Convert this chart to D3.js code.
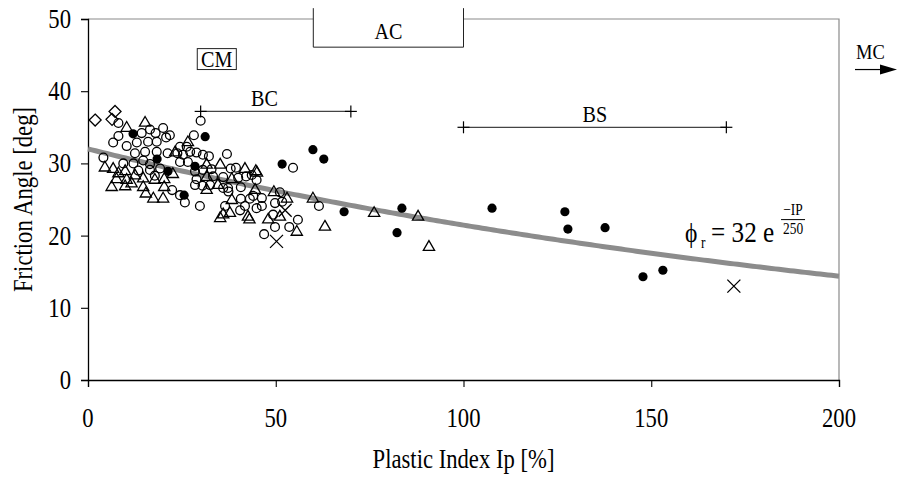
<!DOCTYPE html>
<html><head><meta charset="utf-8">
<script src="https://cdn.jsdelivr.net/npm/d3@7"></script>
<style>body{margin:0;background:#fff}svg{display:block}text{font-family:"Liberation Serif","Times New Roman",serif;fill:#000}</style>
</head><body><div id="chart"></div>
<script>
// ---- data (Plastic index Ip [%], friction angle [deg]) ----
const xTicks = [0, 50, 100, 150, 200];
const yTicks = [0, 10, 20, 30, 40, 50];
const xTitle = "Plastic Index Ip [%]";
const yTitle = "Friction Angle [deg]";
const openCircles = [
 [8.1,35.6],[14.3,34.2],[16.5,34.7],[18,34.2],[20,34.9],[8.1,33.8],[6.7,32.9],[10.3,32.4],[13,32.9],[16,33],
 [18.3,33],[20.8,33.6],[12.5,31.4],[15.2,31.6],[18.3,31.6],[21.2,31.4],[4.1,30.8],[9.4,30],[12.1,30],[14.7,30.4],
 [16.5,29.9],[13.4,29],[16.5,29.1],[19.2,29.3],[17.8,28.3],[22.4,26.3],
 [30,35.9],[28.2,33.9],[24.5,32.3],[26.3,32.3],[21.8,33.9],[23.8,31.4],[25.3,31.2],[27.2,31.6],[28.9,31.5],[30.6,31.2],
 [32.2,31],[37,31.3],[24.5,30.2],[26.6,30.2],[30.6,29.1],[32.9,29.2],[28.5,28.9],[38,29.3],[39.4,29.4],[42.1,28.2],
 [28.9,27.8],[33.3,28.2],[36,28.1],[40,28],[28.5,27],[30.5,26.9],[32.5,27],[36,26.6],[37.3,26.6],[40.7,26.7],
 [24.5,25.6],[40.7,25.1],[43.1,25.1],[25.8,24.6],[29.8,24.1],[36.5,24.1],[41.8,24.1],[40.5,23.5],[44.9,23.8],[44,25.5],
 [44.9,27.7],[43.6,28.4],[46.3,25.2],[46.3,24.1],[51.1,26],[49.8,24.5],[51.7,24.7],[49.3,22.9],[49.8,21.2],[53.6,21.2],
 [55.9,22.2],[46.9,20.2],[61.5,24.1],[54.6,29.4],[37.4,26.1]
];
const openTriangles = [
 [10.3,34.9],[15.2,35.6],[4.5,29.4],[6.7,29.2],[8.1,28.6],[9.9,28.9],[7.6,27.8],[10.3,27.7],[12.5,28.3],[14.7,27.9],
 [11.6,27.2],[6.3,26.7],[9.9,26.8],[14.7,26.7],[17.8,27.7],[20.3,27.8],[15.4,25.8],[17.4,25.1],[20,25.1],[20.3,26.7],
 [26.6,32.9],[23.2,31.5],[31.6,29.8],[35.2,29.8],[22.6,28.5],[41.8,29.2],[44.7,28.9],[31.6,28.1],[38.3,27.8],[34.6,27],
 [31.6,26.3],[38.3,24.9],[36,22.9],[37.8,23.1],[42.6,22.6],[35.2,22.4],
 [45,28.7],[44.5,26.3],[49.5,26],[53,25.1],[51.1,22.6],[48,22.2],[55.6,20.5],[59.9,25.1],[63.1,21.2],[43,22.2],
 [76.2,23.1],[87.9,22.6],[90.8,18.4]
];
const filledCircles = [
 [12,34.1],[18.4,30.6],[21.3,28.9],[28.5,29.6],[25.6,25.6],[31.2,33.7],[51.7,29.9],[59.9,31.9],[62.8,30.6],[68.2,23.3],
 [83.6,23.8],[82.3,20.4],[107.6,23.8],[127,23.3],[127.8,20.9],[137.7,21.1],[147.8,14.3],[153.1,15.2]
];
const diamonds = [[1.9,36],[7.2,37.2],[6.4,36.1]];
const crosses = [[50.2,19.2],[52.5,23.5],[172,13]];
// trend phi_r = 32 e^(-IP/250)
const trendA = 32, trendB = 250;
// range annotations [label, ipStart, ipEnd, phi, labelIp]
const rangeBars = [["BC", 30, 70, 37.2, 47], ["BS", 100, 170, 35.0, 135]];

// ---- layout ----
const W = 897, H = 477;
const m = {left: 88, top: 19, right: 58, bottom: 97};
const svg = d3.select("#chart").append("svg").attr("width", W).attr("height", H);
const x = d3.scaleLinear().domain([0, 200]).range([m.left, W - m.right]);
const y = d3.scaleLinear().domain([0, 50]).range([H - m.bottom, m.top]);
const SX = 0.84;   // horizontally condensed Times look
function txt(parent, px, py, s, size, anchor, rot) {
  return parent.append("text")
    .attr("transform", `translate(${px},${py})${rot ? ` rotate(${rot})` : ""} scale(${SX},1)`)
    .attr("text-anchor", anchor || "start").attr("font-size", size).text(s);
}
const FS = 27;

// plot border (top/right gray)
svg.append("path").attr("d", `M${x(0)},${y(50)}H${x(200)}V${y(0)}`)
  .attr("fill", "none").attr("stroke", "#8a8a8a").attr("stroke-width", 1.2);

// axes
const xAxis = svg.append("g").attr("transform", `translate(0,${y(0)})`)
  .call(d3.axisBottom(x).tickValues(xTicks).tickSize(7).tickFormat(""));
const yAxis = svg.append("g").attr("transform", `translate(${x(0)},0)`)
  .call(d3.axisLeft(y).tickValues(yTicks).tickSize(7).tickFormat(""));
[xAxis, yAxis].forEach(g => {
  g.select(".domain").attr("stroke", "#000").attr("stroke-width", 1.3);
  g.selectAll(".tick line").attr("stroke", "#000").attr("stroke-width", 1.1);
});
xTicks.forEach(t => txt(svg, x(t), y(0) + 47, String(t), FS, "middle"));
yTicks.forEach(t => txt(svg, x(0) - 17, y(t) + 9, String(t), FS, "end"));

txt(svg, (x(0) + x(200)) / 2, 468, xTitle, FS, "middle");
txt(svg, 32, (y(0) + y(50)) / 2, yTitle, FS, "middle", -90);

// AC box (open at top, clipped by page edge)
svg.append("path").attr("d", `M${x(60)},${y(51.5)}V${y(46.1)}H${x(100)}V${y(51.5)}`)
  .attr("fill", "#fff").attr("stroke", "#222").attr("stroke-width", 1);
txt(svg, x(80), y(47.2), "AC", 24, "middle");

// CM box
svg.append("rect").attr("x", x(29.1)).attr("y", y(45.9)).attr("width", x(39.5) - x(29.1)).attr("height", y(43.0) - y(45.9))
  .attr("fill", "none").attr("stroke", "#222").attr("stroke-width", 1);
txt(svg, x(34.3), y(43.4), "CM", 24, "middle");

// range bars
rangeBars.forEach(([lab, a, b, v, lp]) => {
  svg.append("line").attr("x1", x(a)).attr("x2", x(b)).attr("y1", y(v)).attr("y2", y(v))
    .attr("stroke", "#444").attr("stroke-width", 1.2);
  [a, b].forEach(e => {
    svg.append("line").attr("x1", x(e)).attr("x2", x(e)).attr("y1", y(v) - 6).attr("y2", y(v) + 6)
      .attr("stroke", "#000").attr("stroke-width", 1.2);
    svg.append("line").attr("x1", x(e) - 6).attr("x2", x(e) + 6).attr("y1", y(v)).attr("y2", y(v))
      .attr("stroke", "#000").attr("stroke-width", 1.2);
  });
  txt(svg, x(lp), y(v) - 5, lab, 24, "middle");
});

// MC arrow
txt(svg, 856, y(44.4), "MC", 22, "start");
svg.append("line").attr("x1", 855).attr("x2", 882).attr("y1", y(43.0)).attr("y2", y(43.0))
  .attr("stroke", "#000").attr("stroke-width", 1.2);
svg.append("path").attr("d", `M880,${y(43.0) - 5}L897,${y(43.0)}L880,${y(43.0) + 5}Z`).attr("fill", "#000");

// trend line
const trend = d3.range(0, 200.5, 1).map(ip => [ip, trendA * Math.exp(-ip / trendB)]);
svg.append("path").datum(trend)
  .attr("d", d3.line().x(d => x(d[0])).y(d => y(d[1])))
  .attr("fill", "none").attr("stroke", "#8c8c8c").attr("stroke-width", 5);

// markers
const g = svg.append("g");
g.selectAll(".oc").data(openCircles).join("circle")
  .attr("cx", d => x(d[0])).attr("cy", d => y(d[1])).attr("r", 4.4)
  .attr("fill", "none").attr("stroke", "#000").attr("stroke-width", 1.3);
const tri = d3.symbol().type(d3.symbolTriangle).size(55);
g.selectAll(".ot").data(openTriangles).join("path")
  .attr("d", tri).attr("transform", d => `translate(${x(d[0])},${y(d[1])})`)
  .attr("fill", "none").attr("stroke", "#000").attr("stroke-width", 1.3);
g.selectAll(".dm").data(diamonds).join("path")
  .attr("d", d => { const cx = x(d[0]), cy = y(d[1]); return `M${cx},${cy - 6}L${cx + 6},${cy}L${cx},${cy + 6}L${cx - 6},${cy}Z`; })
  .attr("fill", "none").attr("stroke", "#000").attr("stroke-width", 1.3);
g.selectAll(".fc").data(filledCircles).join("circle")
  .attr("cx", d => x(d[0])).attr("cy", d => y(d[1])).attr("r", 4.6).attr("fill", "#000");
g.selectAll(".cr").data(crosses).join("path")
  .attr("d", d => { const cx = x(d[0]), cy = y(d[1]), s = 6.5; return `M${cx - s},${cy - s}L${cx + s},${cy + s}M${cx - s},${cy + s}L${cx + s},${cy - s}`; })
  .attr("stroke", "#000").attr("stroke-width", 1.3);

// equation
const ex = x(159), ey = y(19.1);
txt(svg, ex, ey, "\u03D5", 28, "start");
txt(svg, ex + 16, ey + 6, "r", 16, "start");
txt(svg, ex + 26, ey, "= 32 e", 30, "start");
txt(svg, ex + 108, ey - 27, "\u2212IP", 16, "middle");
svg.append("line").attr("x1", ex + 96).attr("x2", ex + 120).attr("y1", ey - 22.5).attr("y2", ey - 22.5)
  .attr("stroke", "#000").attr("stroke-width", 1);
txt(svg, ex + 108, ey - 8, "250", 16, "middle");
</script></body></html>
